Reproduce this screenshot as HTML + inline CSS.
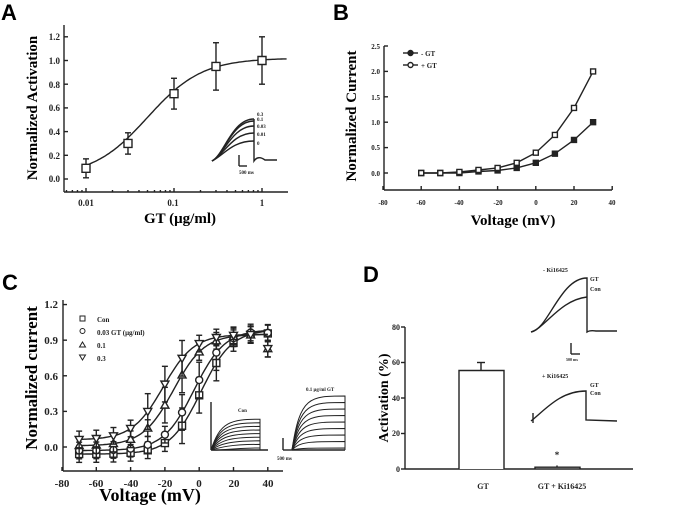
<!DOCTYPE html>
<html><head><meta charset="utf-8"><style>
body{margin:0;background:#fff}
svg{display:block;font-family:"Liberation Serif",serif;font-weight:bold}
.L{font-family:"Liberation Sans",sans-serif;font-weight:bold;font-size:22px}
</style></head><body>
<svg id="s" width="673" height="517" viewBox="0 0 673 517" xmlns="http://www.w3.org/2000/svg">
<g stroke="#222" fill="none" stroke-width="1.4" id="g"></g>
<text class="L" x="1" y="20">A</text>
<text class="L" x="333" y="20">B</text>
<text class="L" x="2" y="290">C</text>
<text class="L" x="363" y="282">D</text>
<g font-size="9" text-anchor="end" fill="#222">
<text x="60" y="40">1.2</text><text x="60" y="64">1.0</text><text x="60" y="88">0.8</text><text x="60" y="111">0.6</text><text x="60" y="135">0.4</text><text x="60" y="159">0.2</text><text x="60" y="182">0.0</text>
</g>
<g font-size="9" text-anchor="middle" fill="#222"><text x="86" y="206">0.01</text><text x="173" y="206">0.1</text><text x="262" y="206">1</text></g>
<text x="180" y="223" font-size="15" text-anchor="middle">GT (μg/ml)</text>
<text transform="translate(37,108) rotate(-90)" font-size="15" text-anchor="middle">Normalized Activation</text>
<g font-size="5" fill="#222"><text x="257" y="116">0.3</text><text x="257" y="121">0.1</text><text x="257" y="128">0.03</text><text x="257" y="136">0.01</text><text x="257" y="145">0</text><text x="239" y="174">500 ms</text></g>
<g font-size="7" text-anchor="end" fill="#222">
<text x="380" y="49">2.5</text><text x="380" y="74">2.0</text><text x="380" y="100">1.5</text><text x="380" y="125">1.0</text><text x="380" y="150">0.5</text><text x="380" y="176">0.0</text>
</g>
<g font-size="7" text-anchor="middle" fill="#222"><text x="383" y="205">-80</text><text x="421" y="205">-60</text><text x="459" y="205">-40</text><text x="498" y="205">-20</text><text x="536" y="205">0</text><text x="574" y="205">20</text><text x="612" y="205">40</text></g>
<text x="513" y="225" font-size="15" text-anchor="middle">Voltage (mV)</text>
<text transform="translate(356,116) rotate(-90)" font-size="15" text-anchor="middle">Normalized Current</text>
<g font-size="7" fill="#222"><text x="421" y="56">- GT</text><text x="421" y="68">+ GT</text></g>
<g font-size="11" text-anchor="end" fill="#222">
<text x="58" y="308">1.2</text><text x="58" y="344">0.9</text><text x="58" y="380">0.6</text><text x="58" y="415">0.3</text><text x="58" y="451">0.0</text>
</g>
<g font-size="11" text-anchor="middle" fill="#222"><text x="62" y="487">-80</text><text x="96" y="487">-60</text><text x="131" y="487">-40</text><text x="165" y="487">-20</text><text x="199" y="487">0</text><text x="234" y="487">20</text><text x="268" y="487">40</text></g>
<text x="150" y="501" font-size="18" text-anchor="middle">Voltage (mV)</text>
<text transform="translate(37,378) rotate(-90)" font-size="17" text-anchor="middle">Normalized current</text>
<g font-size="7" fill="#222"><text x="97" y="322">Con</text><text x="97" y="335">0.03 GT (μg/ml)</text><text x="97" y="348">0.1</text><text x="97" y="361">0.3</text>
<text x="238" y="412" font-size="5">Con</text><text x="306" y="391" font-size="5">0.1 μg/ml GT</text><text x="277" y="460" font-size="5">500 ms</text></g>
<g font-size="8" text-anchor="end" fill="#222">
<text x="400" y="330">80</text><text x="400" y="365">60</text><text x="400" y="401">40</text><text x="400" y="436">20</text><text x="400" y="472">0</text>
</g>
<text transform="translate(388,398) rotate(-90)" font-size="14" text-anchor="middle">Activation (%)</text>
<g font-size="8" text-anchor="middle" fill="#222"><text x="483" y="489">GT</text><text x="562" y="489">GT + Ki16425</text><text x="557" y="458" font-size="9">*</text></g>
<g font-size="6" fill="#222"><text x="543" y="272">- Ki16425</text><text x="590" y="281">GT</text><text x="590" y="291">Con</text><text x="542" y="378">+ Ki16425</text><text x="590" y="387">GT</text><text x="590" y="395">Con</text><text x="566" y="361" font-size="4">500 ms</text></g>
</svg>
<script>
var g=document.getElementById('g'),NS='http://www.w3.org/2000/svg';
function P(d,a){var e=document.createElementNS(NS,'path');e.setAttribute('d',d);if(a)for(var k in a)e.setAttribute(k,a[k]);g.appendChild(e);}
function L(x1,y1,x2,y2,a){P('M'+x1+' '+y1+'L'+x2+' '+y2,a);}
function poly(pts){return 'M'+pts.map(function(p){return p[0].toFixed(1)+' '+p[1].toFixed(1)}).join('L');}
var ax=function(v){return 86+88*Math.log10(v/0.01)},ay=function(v){return 179-118.5*v};
L(64,25,64,192);L(64,192,288,192);
for(var i=0;i<=6;i++){L(64,ay(i*0.2),68,ay(i*0.2));}
[0.003,0.004,0.005,0.006,0.007,0.008,0.009,0.01,0.02,0.03,0.04,0.05,0.06,0.07,0.08,0.09,0.1,0.2,0.3,0.4,0.5,0.6,0.7,0.8,0.9,1,2].forEach(function(v){var x=ax(v);if(x<64||x>288)return;var big=[0.01,0.1,1].indexOf(v)>=0;L(x,192,x,big?188:190);});
var pts=[];for(var lx=-2;lx<=0.3;lx+=0.02){var v=Math.pow(10,lx);pts.push([ax(v),ay(0.02+1.0/(1+Math.pow(0.05/v,1.4)))]);}P(poly(pts));
[[0.01,0.09,0.08],[0.03,0.30,0.09],[0.1,0.72,0.13],[0.3,0.95,0.2],[1,1.0,0.2]].forEach(function(p){var x=ax(p[0]),y=ay(p[1]);L(x,ay(p[1]+p[2]),x,ay(p[1]-p[2]));L(x-3,ay(p[1]+p[2]),x+3,ay(p[1]+p[2]));L(x-3,ay(p[1]-p[2]),x+3,ay(p[1]-p[2]));P('M'+(x-4)+' '+(y-4)+'h8v8h-8z',{fill:'#fff'});});
[119,121,126,133,141].forEach(function(t){P('M212 161C224 155 232 '+t+' 254 '+t);});
P('M254 119L254 161Q258 155 265 160L277 160');L(239,155,239,166);L(239,166,247,166);
var bx=function(v){return 383+1.91*(v+80)},by=function(v){return 173-50.8*v};
L(384,46,384,190);L(384,190,612,190);
for(i=0;i<=5;i++)L(384,by(i*0.5),388,by(i*0.5));
for(i=-80;i<=40;i+=20)L(bx(i),190,bx(i),186);
var V=[-60,-50,-40,-30,-20,-10,0,10,20,30],m=[0,0,0,0.03,0.05,0.1,0.2,0.38,0.65,1.0],p=[0,0,0.02,0.06,0.1,0.2,0.4,0.75,1.28,2.0];
P(poly(V.map(function(v,i){return[bx(v),by(m[i])]})));P(poly(V.map(function(v,i){return[bx(v),by(p[i])]})));
V.forEach(function(v,i){var x=bx(v);if(i>6){L(x,by(p[i]+0.05),x,by(p[i]-0.05));L(x,by(m[i]+0.04),x,by(m[i]-0.04));}
P('M'+(x-2.5)+' '+(by(m[i])-2.5)+'h5v5h-5z',{fill:'#222'});P('M'+(x-2.5)+' '+(by(p[i])-2.5)+'h5v5h-5z',{fill:'#fff'});});
L(403,53,418,53);P('M408 53a2.5 2.5 0 1 0 5 0a2.5 2.5 0 1 0 -5 0',{fill:'#222'});
L(403,65,418,65);P('M408 65a2.5 2.5 0 1 0 5 0a2.5 2.5 0 1 0 -5 0',{fill:'#fff'});
var cx=function(v){return 62+1.715*(v+80)},cy=function(v){return 447-118.7*v};
L(63,300,63,471);L(63,471,283,471);
for(i=0;i<=4;i++)L(63,cy(i*0.3),67,cy(i*0.3));
for(i=-80;i<=40;i+=20)L(cx(i),471,cx(i),467);
var S=[[1,9,-0.06,0.99],[-3,9,-0.03,0.99],[-15,9,0.01,0.95],[-21,9,0.06,0.95]];
S.forEach(function(s,k){var pts=[];for(var v=-70;v<=40;v+=1)pts.push([cx(v),cy(s[2]+(s[3]-s[2])/(1+Math.exp((s[0]-v)/s[1])))]);P(poly(pts));
for(var v=-70;v<=40;v+=10){var y=s[2]+(s[3]-s[2])/(1+Math.exp((s[0]-v)/s[1]));if(v==40)y-= (k>1?0.12:0.02);var e=Math.abs(v-s[0])<15?0.15:0.07;var x=cx(v);
L(x,cy(y+e),x,cy(y-e));L(x-3,cy(y+e),x+3,cy(y+e));L(x-3,cy(y-e),x+3,cy(y-e));
var Y=cy(y);var sh=k==0?'M'+(x-3.5)+' '+(Y-3.5)+'h7v7h-7z':k==1?'M'+(x-3.5)+' '+Y+'a3.5 3.5 0 1 0 7 0a3.5 3.5 0 1 0 -7 0':k==2?'M'+x+' '+(Y-4)+'l4 7h-8z':'M'+x+' '+(Y+4)+'l4 -7h-8z';P(sh,{fill:'#fff'});}});
var lg=['M80 316h5v5h-5z','M80 331a2.5 2.5 0 1 0 5 0a2.5 2.5 0 1 0 -5 0','M82.5 342l3 5h-6z','M82.5 360l3 -5h-6z'];lg.forEach(function(s){P(s,{'stroke-width':1});});
L(211,402,211,450);
for(i=0;i<9;i++){var t=448-i*3.6;P('M211 450C220 '+(t+3)+' 230 '+t+' 260 '+t+'L260 450',{'stroke-width':1});}
L(211,450,268,450);L(283,438,283,450);L(283,450,292,450);
for(i=0;i<9;i++){var t=448-i*6.5;P('M292 450C300 '+(t)+' 310 '+t+' 345 '+t+'L345 450',{'stroke-width':1});}
L(292,450,345,450);
var dy=function(v){return 469-1.775*v};
L(405,327,405,469);L(405,469,633,469);
for(i=0;i<=4;i++)L(401,dy(i*20),405,dy(i*20));
P('M459 469V'+dy(55.5)+'H504V469',{fill:'#fff'});L(481,dy(55.5),481,dy(60));L(477,dy(60),485,dy(60));
P('M535 469V'+dy(1)+'H580V469');L(557,dy(1),557,dy(2));
P('M531 332C548 330 560 278 587 278L587 332Q590 330 596 331L617 331');
P('M531 332C545 328 560 300 587 297');
L(571,343,571,354);L(571,354,580,354);
P('M531 421C545 410 560 391 586 391L586 420L617 421');L(533,413,533,423);
</script>
</body></html>
